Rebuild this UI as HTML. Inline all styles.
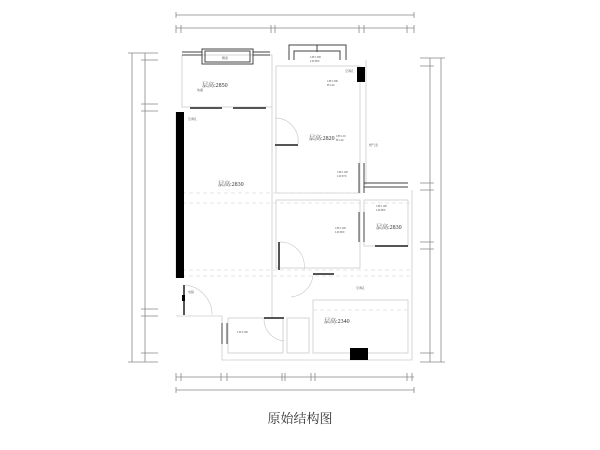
<!DOCTYPE html>
<html><head><meta charset="utf-8"><style>
html,body{margin:0;padding:0;background:#fff;width:600px;height:450px;overflow:hidden}
svg{display:block}
text{font-family:"Liberation Serif","Noto Serif CJK SC",serif}
</style></head><body>
<svg width="600" height="450" viewBox="0 0 600 450">
<g stroke="#888" stroke-width="0.8" fill="none">
<line x1="176" y1="15" x2="414" y2="15"/>
<line x1="176" y1="12" x2="176" y2="18"/><line x1="414" y1="12" x2="414" y2="18"/>
<line x1="176" y1="28" x2="414" y2="28"/>
<path d="M176 25v8M181 25v8M271 25v8M275 25v8M359 25v8M364 25v8M407 25v8M414 25v8"/>
<line x1="176" y1="377" x2="414" y2="377"/>
<path d="M176 373v8M181 373v8M221 373v8M227 373v8M282 373v8M285 373v8M311 373v8M315 373v8M407 373v8M412 373v8"/>
<line x1="176" y1="390" x2="414" y2="390"/>
<path d="M176 387v6M414 387v6"/>
<line x1="132" y1="53" x2="132" y2="362"/>
<line x1="145" y1="53" x2="145" y2="362"/>
<path d="M128 53h30M141 60h17M141 104h17M141 111h17M141 309h17M141 316h17M141 353h17M128 362h30"/>
<line x1="430" y1="58" x2="430" y2="362"/>
<line x1="441" y1="58" x2="441" y2="362"/>
<path d="M420 58h25M420 66h14M420 183h14M420 190h14M420 242h14M420 249h14M420 353h14M420 362h25"/>
</g>
<g stroke="#ccc" stroke-width="0.8" fill="none">
<rect x="182" y="55" width="90" height="52"/>
<rect x="276" y="66" width="84" height="127"/>
<rect x="276" y="200" width="84" height="68"/>
<rect x="364" y="200" width="44" height="46"/>
<rect x="313" y="300" width="95" height="53"/>
<rect x="228" y="318" width="55" height="35"/>
<rect x="287" y="318" width="22" height="35"/>
<path d="M176 112v166M176 316h46M222 316v44h190V190M366 60v125M272 107v210"/>
</g>
<g stroke="#ddd" stroke-width="0.8" stroke-dasharray="4 3" fill="none">
<path d="M182 193h180M182 203h230M182 270h230M182 276h230M313 310h95"/>
</g>
<g stroke="#444" stroke-width="1" fill="none">
<path d="M182 52h20M182 55h20M253 52h17M253 55h17"/>
<rect x="202" y="49" width="51" height="15"/>
<rect x="205" y="51" width="45" height="11"/>
<path d="M289 60V45h57v15M294 60V51h46v9"/>
<line x1="317" y1="45" x2="317" y2="52"/>
</g>
<rect x="176" y="112" width="8" height="166" fill="#000"/>
<rect x="357" y="67" width="8" height="15" fill="#000"/>
<rect x="350" y="348" width="18" height="12" fill="#000"/>
<g fill="#555">
<rect x="190" y="107" width="32" height="2"/><rect x="233" y="107" width="33" height="2"/>
<rect x="275" y="144" width="23" height="2"/>
<rect x="278" y="242" width="2" height="28"/>
<rect x="313" y="273" width="21" height="2"/>
<rect x="264" y="317" width="20" height="2"/>
<rect x="375" y="245" width="33" height="2"/>
<rect x="183" y="285" width="2" height="30"/>
<rect x="182" y="295" width="3" height="6" fill="#000"/>
</g>
<g stroke="#444" stroke-width="1" fill="none">
<path d="M359 163v30M364 163v30M364 183h44M364 187h44"/>
<path d="M359 212v30M364 212v30"/>
<path d="M222 323v21M227 323v21"/>
</g>
<g stroke="#ccc" stroke-width="0.7" fill="none">
<path d="M275 118a23 23 0 0 1 23 26M280 242a24 24 0 0 1 24 28M313 275a24 24 0 0 1-22 22M264 319a22 22 0 0 0 20 22M185 285a30 30 0 0 1 27 30"/>
</g>
<g font-size="6" fill="#333">
<text x="202" y="87">层高:2850</text>
<text x="309" y="140">层高:2820</text>
<text x="218" y="186">层高:2830</text>
<text x="376" y="229">层高:2830</text>
<text x="324" y="323">层高:2340</text>
</g>
<g font-size="3" fill="#555">
<text x="222" y="59">飘窗</text>
<text x="310" y="58">CH:1300</text><text x="310" y="62">LD:900</text>
<text x="327" y="82">CH:1300</text><text x="327" y="86">B:140</text>
<text x="197" y="91">地漏</text>
<text x="188" y="120">空调孔</text>
<text x="336" y="137">CH:120</text><text x="336" y="141">B:140</text>
<text x="369" y="146">燃气表</text>
<text x="337" y="173">CH:1100</text><text x="337" y="177">LD:970</text>
<text x="376" y="207">CH:1100</text><text x="376" y="211">LD:900</text>
<text x="335" y="229">CH:1100</text><text x="335" y="233">LD:900</text>
<text x="356" y="289">空调孔</text>
<text x="188" y="293">电箱</text>
<text x="237" y="333">LD:2100</text>
<text x="345" y="72">空调孔</text>
</g>
<text x="300" y="423" font-size="13" fill="#333" text-anchor="middle" style='font-family:"Noto Serif CJK SC",serif'>原始结构图</text>
</svg>
</body></html>
